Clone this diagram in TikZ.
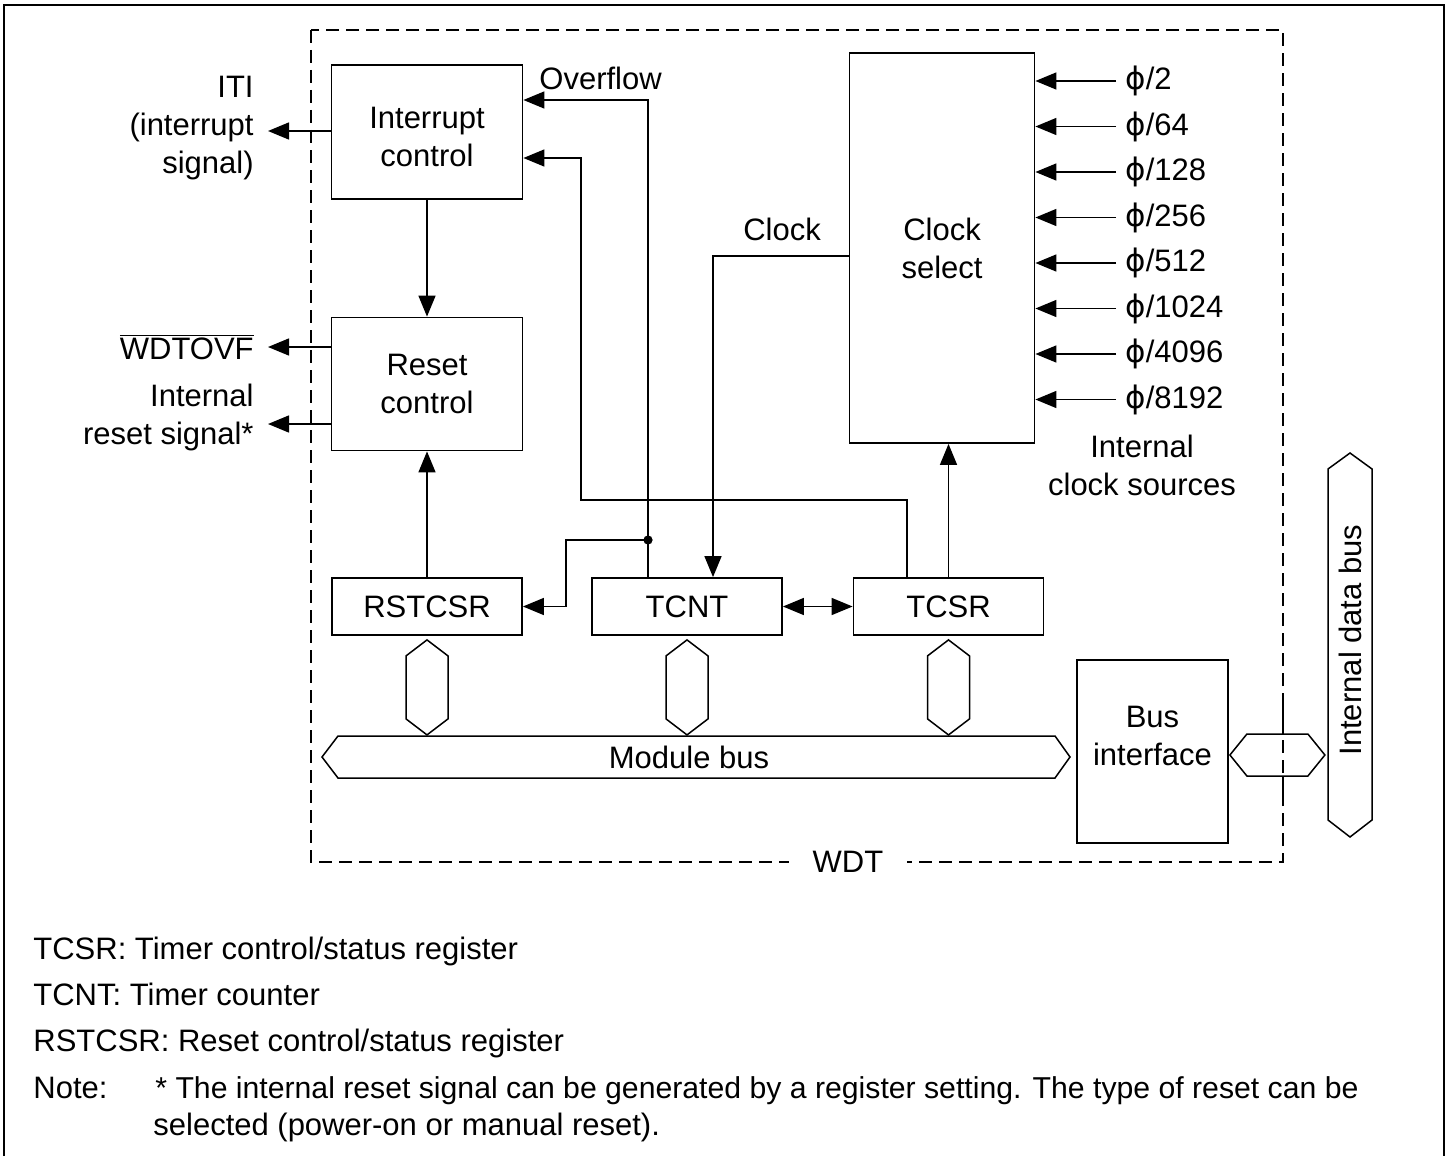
\documentclass[tikz,border=0pt]{standalone}
\usepackage{fontspec}
\setmainfont{Liberation Sans}
\newfontfamily\phifont{DejaVu Sans}
\usepackage{tikz}
\usetikzlibrary{arrows.meta, calc}

\tikzset{
  box/.style={draw, line width=0.9pt, align=center, inner sep=0pt},
  wire/.style={line width=0.75pt},
  arr/.style={wire, -{Triangle[length=10.5pt,width=8.5pt]}},
  dblarr/.style={wire, {Triangle[length=10.5pt,width=8.5pt]}-{Triangle[length=10.5pt,width=8.5pt]}},
  lbl/.style={inner sep=0pt, align=center},
  bus/.style={line width=0.75pt, fill=white},
}

\begin{document}
\begin{tikzpicture}[x=0.5pt, y=-0.5pt, font=\fontsize{15.5}{19}\selectfont]
  \useasboundingbox (0,0) rectangle (1450,1156);
  % Frame
  \draw[line width=0.9pt] (4,1156) -- (4,5) -- (1444,5) -- (1444,1156);

  % WDT boundary
  \draw[wire, dash pattern=on 6.5pt off 3.5pt] (311,30) rectangle (1283,862);
  \node[fill=white, inner xsep=12pt, inner ysep=2pt] (wdt) at (848,862) {WDT};

  % Blocks
  \node[box, minimum width=95.5pt, minimum height=67pt] (intc) at (427,132) {};
  \node[lbl] (intctxt) at (427,137) {Interrupt\\control};
  \node[box, minimum width=95.5pt, minimum height=66.5pt] (rstc) at (427,384) {Reset\\control};
  \node[box, minimum width=92.5pt, minimum height=195pt] (clksel) at (942,248) {Clock\\select};
  \node[box, minimum width=95pt, minimum height=28.5pt] (rstcsr) at (427,606.5) {RSTCSR};
  \node[box, minimum width=95pt, minimum height=28.5pt] (tcnt) at (687,606.5) {TCNT};
  \node[box, minimum width=95pt, minimum height=28.5pt] (tcsr) at (948.5,606.5) {TCSR};
  \node[box, minimum width=75.5pt, minimum height=91.5pt] (busif) at (1152.5,751.5) {};
  \node[lbl] (busiftxt) at (1152.5,736) {Bus\\interface};

  % Outputs
  \coordinate (itiout) at (268,131);
  \coordinate (wdtout) at (268,347);
  \coordinate (rstout) at (268,424);
  \draw[arr] (intc.west |- itiout) -- (itiout);
  \draw[arr] (rstc.west |- wdtout) -- (wdtout);
  \draw[arr] (rstc.west |- rstout) -- (rstout);
  \node[lbl, anchor=east, align=right] (itilbl) at (254,128) {ITI\\(interrupt\\signal)};
  \node[lbl, anchor=east] (wdtlbl) at (254,347) {$\overline{\mbox{WDTOVF}}$};
  \node[lbl, anchor=east, align=right] (rstlbl) at (254,417) {Internal\\reset signal*};

  % Control paths
  \draw[arr] (intc.south) -- (rstc.north);
  \draw[arr] (rstcsr.north) -- (rstc.south);
  \draw[arr] (tcsr.north) -- (tcsr.north |- clksel.south);
  \draw[dblarr] (tcnt.east) -- (tcsr.west);

  % Overflow
  \coordinate (ovfdot) at (648,540);
  \coordinate (ovftop) at (648,100);
  \coordinate (rstturn) at (566,540);
  \draw[arr] (tcnt.north -| ovfdot) -- (ovftop) -- (ovftop -| intc.east);
  \draw[arr] (ovfdot) -- (rstturn) |- (rstcsr.east);
  \fill (ovfdot) circle (2.3pt);
  \node[lbl, anchor=west] (ovflbl) at (539,78) {Overflow};

  % TCSR to interrupt control
  \coordinate (tcsrup) at (907,500);
  \coordinate (intin) at (581,158);
  \draw[arr] (tcsr.north -| tcsrup) -- (tcsrup) -| (intin) -- (intin -| intc.east);

  % Clock
  \coordinate (clkturn) at (713,256);
  \draw[arr] (clksel.west |- clkturn) -- (clkturn) -- (clkturn |- tcnt.north);
  \node[lbl] (clklbl) at (782,229) {Clock};

  % Internal clock sources
  \foreach \d [count=\i from 0] in {2,64,128,256,512,1024,4096,8192} {
    \coordinate (src\i) at (1116,{81+45.5*\i});
    \draw[arr] (src\i) -- (src\i -| clksel.east);
    \node[lbl, anchor=west] (div\i) at (1125,{81+45.5*\i}) {{\phifont ϕ}/\d};
  }
  \node[lbl] (srclbl) at (1142,465) {Internal\\clock sources};

  % Register taps on the module bus
  \foreach \reg in {rstcsr,tcnt,tcsr} {
    \draw[bus] ($(\reg.south)+(0,4)$) -- ++(21,16) -- ++(0,63) -- ++(-21,16) -- ++(-21,-16) -- ++(0,-63) -- cycle;
  }

  % Module bus
  \draw[bus] (322,757) -- (338,736) -- (1055,736) -- (1070,757) -- (1055,778) -- (338,778) -- cycle;
  \node[lbl] (modbus) at (689,757) {Module bus};

  % Bus interface to internal data bus
  \draw[bus] ($(busif.east |- 0,755)+(1,0)$) -- ++(17,-21) -- ++(61,0) -- ++(17,21) -- ++(-17,21) -- ++(-61,0) -- cycle;
  \draw[wire, dash pattern=on 6.5pt off 3.5pt] (1283,700) -- (1283,800);
  \draw[bus] (1350,453) -- (1372,469) -- (1372,820) -- (1350,837) -- (1328,820) -- (1328,469) -- cycle;
  \node[lbl, rotate=90] (dbuslbl) at (1350,640) {Internal data bus};

  % Legend
  \node[lbl, anchor=base west] (leg1) at (33,959) {TCSR: Timer control/status register};
  \node[lbl, anchor=base west] (leg2) at (33,1005) {TCNT: Timer counter};
  \node[lbl, anchor=base west] (leg3) at (33,1051) {RSTCSR: Reset control/status register};
  \node[lbl, anchor=base west] (leg4) at (33,1098) {Note:};
  \node[lbl, anchor=base west, font=\fontsize{15.1}{19}\selectfont] (leg5) at (155,1098) {* The internal reset signal can be generated by a register setting. The type of reset can be};
  \node[lbl, anchor=base west] (leg6) at (153,1135) {selected (power-on or manual reset).};
\end{tikzpicture}
\end{document}
